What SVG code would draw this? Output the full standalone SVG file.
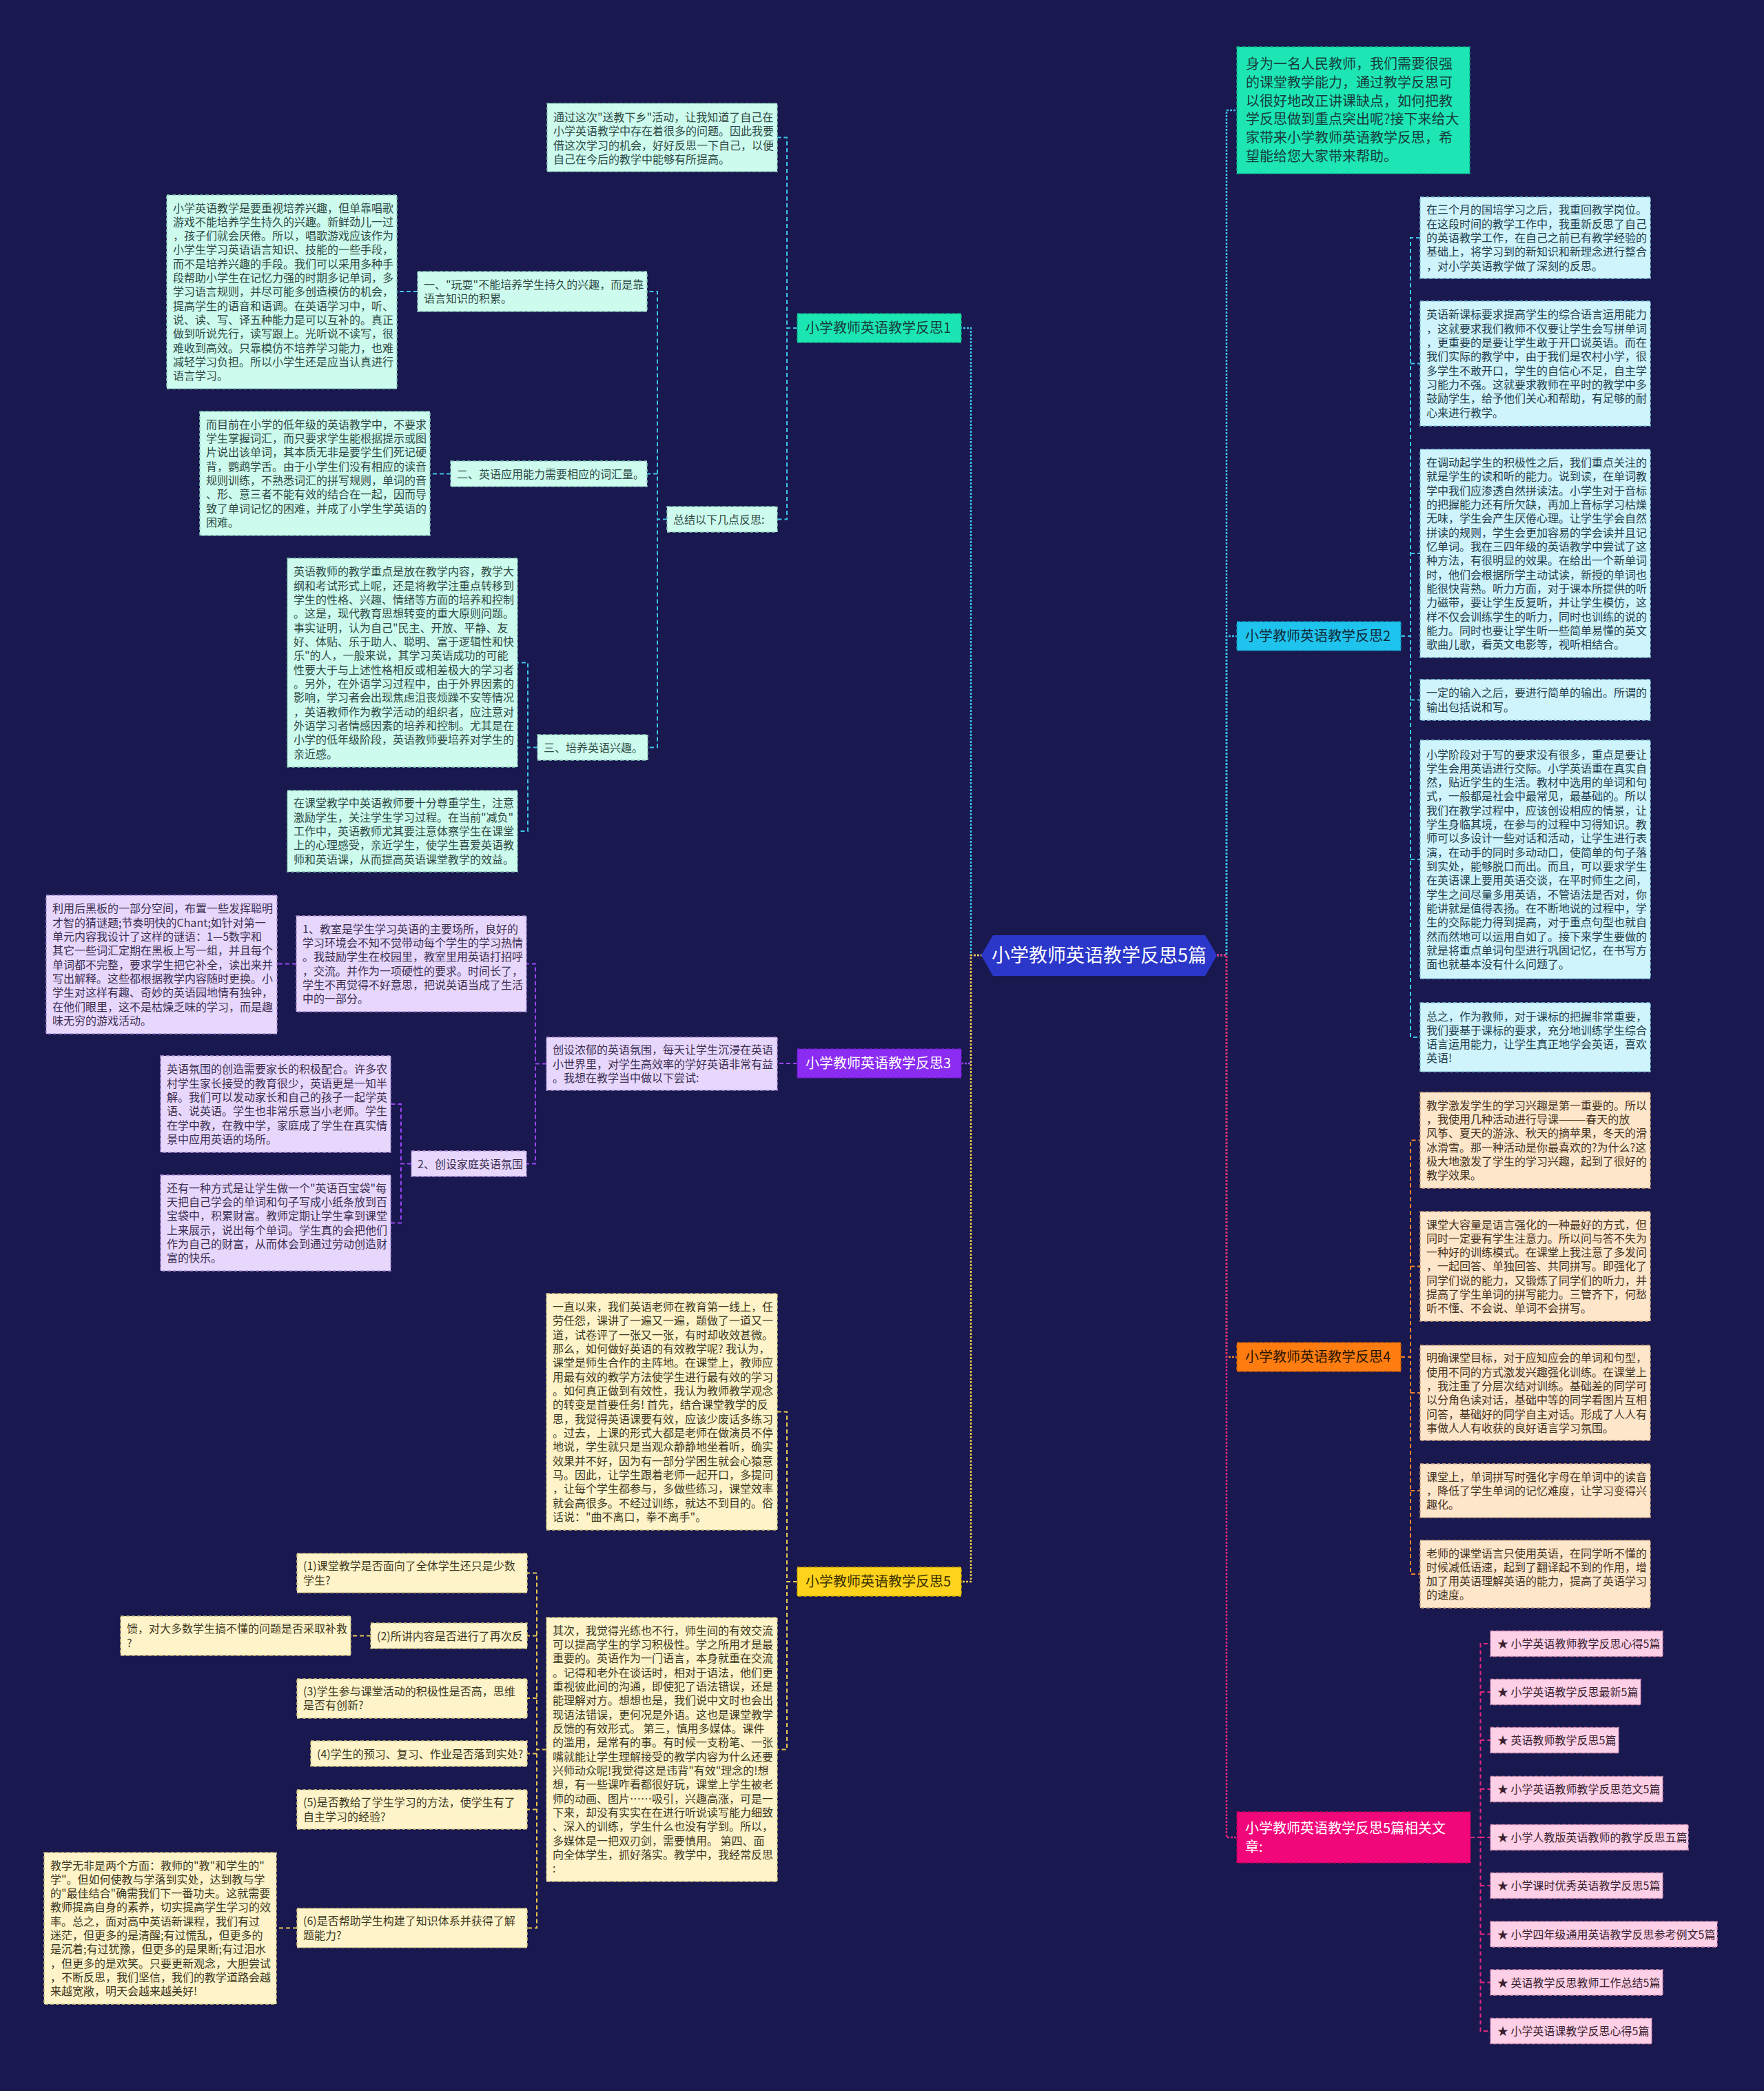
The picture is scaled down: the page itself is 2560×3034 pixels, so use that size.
<svg xmlns="http://www.w3.org/2000/svg" width="2560" height="3034" viewBox="0 0 2560 3034">
<style>
.t{font-family:'Noto Sans CJK SC','Noto Sans',sans-serif;font-size:16px}
.b{font-family:'Noto Sans CJK SC','Noto Sans',sans-serif;font-size:20px}
.box{stroke-width:1.5;stroke-dasharray:5 3}
.m{fill:#cdfbee;stroke:#86c9b8}.tm{fill:#2f4a45}
.c{fill:#cff4fc;stroke:#84c6da}.tc{fill:#24404e}
.p{fill:#e8d7fc;stroke:#a98fd6}.tp{fill:#3b2f52}
.y{fill:#fff4c9;stroke:#cdbd7e}.ty{fill:#3d3823}
.o{fill:#fde6ca;stroke:#cfa47c}.to{fill:#47331f}
.k{fill:#fdd0e7;stroke:#d48ab0}.tk{fill:#3b1f2f}
.ln{fill:none;stroke-width:2;stroke-dasharray:6 4}
.mn{fill:none;stroke-width:2.5;stroke-dasharray:3 2}
.lc{stroke:#3dc3e6}.lp{stroke:#9a45f5}.ly{stroke:#e9c64e}.lo{stroke:#f2822c}.lk{stroke:#e6287f}
</style>
<rect width="2560" height="3034" fill="#19184f"/>
<g id="connectors">
<path class="mn lc" d="M1426,1386 H1409 V476 H1395"/>
<path class="mn lp" d="M1426,1386 H1409 V1543 H1395"/>
<path class="mn ly" d="M1426,1386 H1409 V2295 H1395"/>
<path class="mn lc" d="M1761,1386 H1780 V160 H1795"/>
<path class="mn lc" d="M1761,1386 H1780 V923 H1795"/>
<path class="mn lo" d="M1761,1386 H1780 V1969 H1795"/>
<path class="mn lk" d="M1761,1386 H1780 V2666 H1795"/>
<path class="ln lc" d="M1157,476 H1142 V199.5 H1128 M1157,476 H1142 V753.5 H1128"/>
<path class="ln lc" d="M968,753.5 H954 V423 H939 M954,687.5 H939 M968,753.5 H954 V1084.5 H940"/>
<path class="ln lc" d="M606,423 H576 M654,687.5 H624"/>
<path class="ln lc" d="M780,1084.5 H766 V961.5 H751 M780,1084.5 H766 V1206 H751"/>
<path class="ln lc" d="M2033,923 H2047 V345 H2061 M2047,527.5 H2061 M2047,803 H2061 M2033,923 H2047 V1505 H2061 M2047,1015.5 H2061 M2047,1247 H2061"/>
<path class="ln lp" d="M1157,1543 H1128 M793,1543.5 H777 V1398.5 H764 M793,1543.5 H777 V1688.5 H764 M430,1398.5 H402 M597,1688.5 H582 V1602 H567 M597,1688.5 H582 V1774.5 H567"/>
<path class="ln lo" d="M2033,1969 H2047 V1654.5 H2061 M2047,1837.5 H2061 M2033,1969 H2047 V2284 H2061 M2047,2021 H2061 M2047,2163 H2061"/>
<path class="ln ly" d="M1157,2295 H1142 V2048.5 H1128 M1157,2295 H1142 V2538.5 H1128"/>
<path class="ln ly" d="M793,2538.5 H779 V2282.5 H765 M779,2373.5 H765 M779,2464 H765 M779,2544.5 H765 M793,2538.5 H779 V2797.5 H765 M779,2625.5 H765 M538,2373.5 H509 M431,2797.5 H401"/>
<path class="ln lk" d="M2134,2666 H2148.5 V2385 H2163 M2148.5,2455 H2163 M2148.5,2525 H2163 M2148.5,2596 H2163 M2148.5,2666 H2163 M2134,2666 H2148.5 V2947 H2163 M2148.5,2736 H2163 M2148.5,2806.5 H2163 M2148.5,2876.5 H2163"/>
</g>
<g id="center">
<path d="M1424,1386 L1441,1357 L1749,1357 L1766,1386 L1749,1416 L1441,1416 Z" fill="#2b37c9"/>
<text x="1595" y="1396" text-anchor="middle" font-family="'Noto Sans CJK SC','Noto Sans',sans-serif" font-size="27" fill="#ffffff">小学教师英语教学反思5篇</text>
</g>
<g id="b1"><rect class="box" x="1157" y="455" width="238" height="42" fill="#1be5b2" stroke="#0fa984"/><text class="b" x="1169" y="483" fill="#173c3c">小学教师英语教学反思1</text></g>
<g id="b3"><rect class="box" x="1157" y="1522" width="238" height="42" fill="#8b2cf2" stroke="#6a1cc0"/><text class="b" x="1169" y="1550" fill="#ffffff">小学教师英语教学反思3</text></g>
<g id="b5"><rect class="box" x="1157" y="2274" width="238" height="42" fill="#ffd21c" stroke="#c9a200"/><text class="b" x="1169" y="2302" fill="#3a3000">小学教师英语教学反思5</text></g>
<g id="b2"><rect class="box" x="1795" y="902" width="238" height="42" fill="#1fc4ee" stroke="#1190b5"/><text class="b" x="1807" y="930" fill="#102a3a">小学教师英语教学反思2</text></g>
<g id="b4"><rect class="box" x="1795" y="1948" width="238" height="42" fill="#ff7d10" stroke="#c45c00"/><text class="b" x="1807" y="1976" fill="#2a1500">小学教师英语教学反思4</text></g>
<g id="b6"><rect class="box" x="1795" y="2629" width="339" height="74" fill="#f2077b" stroke="#b8005a"/><text class="b" fill="#ffffff"><tspan x="1807" y="2660">小学教师英语教学反思5篇相关文</tspan><tspan x="1807" dy="27">章:</tspan></text></g>
<g id="intro"><rect class="box" x="1795" y="68" width="338" height="184" fill="#1de6b4" stroke="#10a883"/><text class="b" fill="#173c3c"><tspan x="1808" y="100">身为一名人民教师，我们需要很强</tspan><tspan x="1808" dy="26.8">的课堂教学能力，通过教学反思可</tspan><tspan x="1808" dy="26.8">以很好地改正讲课缺点，如何把教</tspan><tspan x="1808" dy="26.8">学反思做到重点突出呢?接下来给大</tspan><tspan x="1808" dy="26.8">家带来小学教师英语教学反思，希</tspan><tspan x="1808" dy="26.8">望能给您大家带来帮助。</tspan></text></g>
<g id="nA"><rect class="box m" x="794" y="150" width="334" height="99"/><text class="t tm"><tspan x="803" y="176">通过这次"送教下乡"活动，让我知道了自己在</tspan><tspan x="803" dy="20.33">小学英语教学中存在着很多的问题。因此我要</tspan><tspan x="803" dy="20.33">借这次学习的机会，好好反思一下自己，以便</tspan><tspan x="803" dy="20.33">自己在今后的教学中能够有所提高。</tspan></text></g>
<g id="nB"><rect class="box m" x="242" y="283" width="334" height="281"/><text class="t tm"><tspan x="251" y="307.5">小学英语教学是要重视培养兴趣，但单靠唱歌</tspan><tspan x="251" dy="20.33">游戏不能培养学生持久的兴趣。新鲜劲儿一过</tspan><tspan x="251" dy="20.33">，孩子们就会厌倦。所以，唱歌游戏应该作为</tspan><tspan x="251" dy="20.33">小学生学习英语语言知识、技能的一些手段，</tspan><tspan x="251" dy="20.33">而不是培养兴趣的手段。我们可以采用多种手</tspan><tspan x="251" dy="20.33">段帮助小学生在记忆力强的时期多记单词，多</tspan><tspan x="251" dy="20.33">学习语言规则，并尽可能多创造模仿的机会，</tspan><tspan x="251" dy="20.33">提高学生的语音和语调。在英语学习中，听、</tspan><tspan x="251" dy="20.33">说、读、写、译五种能力是可以互补的。真正</tspan><tspan x="251" dy="20.33">做到听说先行，读写跟上。光听说不读写，很</tspan><tspan x="251" dy="20.33">难收到高效。只靠模仿不培养学习能力，也难</tspan><tspan x="251" dy="20.33">减轻学习负担。所以小学生还是应当认真进行</tspan><tspan x="251" dy="20.33">语言学习。</tspan></text></g>
<g id="nC"><rect class="box m" x="606" y="394" width="333" height="58"/><text class="t tm"><tspan x="615" y="418.8">一、"玩耍"不能培养学生持久的兴趣，而是靠</tspan><tspan x="615" dy="20.33">语言知识的积累。</tspan></text></g>
<g id="nD"><rect class="box m" x="968" y="735" width="160" height="37"/><text class="t tm" x="977" y="759.5">总结以下几点反思:</text></g>
<g id="nE"><rect class="box m" x="290" y="597" width="334" height="180"/><text class="t tm"><tspan x="299" y="621.8">而目前在小学的低年级的英语教学中，不要求</tspan><tspan x="299" dy="20.33">学生掌握词汇，而只要求学生能根据提示或图</tspan><tspan x="299" dy="20.33">片说出该单词，其本质无非是要学生们死记硬</tspan><tspan x="299" dy="20.33">背，鹦鹉学舌。由于小学生们没有相应的读音</tspan><tspan x="299" dy="20.33">规则训练，不熟悉词汇的拼写规则，单词的音</tspan><tspan x="299" dy="20.33">、形、意三者不能有效的结合在一起，因而导</tspan><tspan x="299" dy="20.33">致了单词记忆的困难，并成了小学生学英语的</tspan><tspan x="299" dy="20.33">困难。</tspan></text></g>
<g id="nF"><rect class="box m" x="654" y="669" width="285" height="37"/><text class="t tm" x="663" y="693.5">二、英语应用能力需要相应的词汇量。</text></g>
<g id="nG"><rect class="box m" x="417" y="810" width="334" height="303"/><text class="t tm"><tspan x="426" y="835.4">英语教师的教学重点是放在教学内容，教学大</tspan><tspan x="426" dy="20.33">纲和考试形式上呢，还是将教学注重点转移到</tspan><tspan x="426" dy="20.33">学生的性格、兴趣、情绪等方面的培养和控制</tspan><tspan x="426" dy="20.33">。这是，现代教育思想转变的重大原则问题。</tspan><tspan x="426" dy="20.33">事实证明，认为自己"民主、开放、平静、友</tspan><tspan x="426" dy="20.33">好、体贴、乐于助人、聪明、富于逻辑性和快</tspan><tspan x="426" dy="20.33">乐"的人，一般来说，其学习英语成功的可能</tspan><tspan x="426" dy="20.33">性要大于与上述性格相反或相差极大的学习者</tspan><tspan x="426" dy="20.33">。另外，在外语学习过程中，由于外界因素的</tspan><tspan x="426" dy="20.33">影响，学习者会出现焦虑沮丧烦躁不安等情况</tspan><tspan x="426" dy="20.33">，英语教师作为教学活动的组织者，应注意对</tspan><tspan x="426" dy="20.33">外语学习者情感因素的培养和控制。尤其是在</tspan><tspan x="426" dy="20.33">小学的低年级阶段，英语教师要培养对学生的</tspan><tspan x="426" dy="20.33">亲近感。</tspan></text></g>
<g id="nH"><rect class="box m" x="417" y="1147" width="334" height="118"/><text class="t tm"><tspan x="426" y="1171.3">在课堂教学中英语教师要十分尊重学生，注意</tspan><tspan x="426" dy="20.33">激励学生，关注学生学习过程。在当前"减负"</tspan><tspan x="426" dy="20.33">工作中，英语教师尤其要注意体察学生在课堂</tspan><tspan x="426" dy="20.33">上的心理感受，亲近学生，使学生喜爱英语教</tspan><tspan x="426" dy="20.33">师和英语课，从而提高英语课堂教学的效益。</tspan></text></g>
<g id="nI"><rect class="box m" x="780" y="1066" width="160" height="37"/><text class="t tm" x="789" y="1090.5">三、培养英语兴趣。</text></g>
<g id="nJ"><rect class="box c" x="2061" y="286" width="334" height="118"/><text class="t tc"><tspan x="2070" y="310.3">在三个月的国培学习之后，我重回教学岗位。</tspan><tspan x="2070" dy="20.33">在这段时间的教学工作中，我重新反思了自己</tspan><tspan x="2070" dy="20.33">的英语教学工作，在自己之前已有教学经验的</tspan><tspan x="2070" dy="20.33">基础上，将学习到的新知识和新理念进行整合</tspan><tspan x="2070" dy="20.33">，对小学英语教学做了深刻的反思。</tspan></text></g>
<g id="nK"><rect class="box c" x="2061" y="437" width="334" height="181"/><text class="t tc"><tspan x="2070" y="462.3">英语新课标要求提高学生的综合语言运用能力</tspan><tspan x="2070" dy="20.33">，这就要求我们教师不仅要让学生会写拼单词</tspan><tspan x="2070" dy="20.33">，更重要的是要让学生敢于开口说英语。而在</tspan><tspan x="2070" dy="20.33">我们实际的教学中，由于我们是农村小学，很</tspan><tspan x="2070" dy="20.33">多学生不敢开口，学生的自信心不足，自主学</tspan><tspan x="2070" dy="20.33">习能力不强。这就要求教师在平时的教学中多</tspan><tspan x="2070" dy="20.33">鼓励学生，给予他们关心和帮助，有足够的耐</tspan><tspan x="2070" dy="20.33">心来进行教学。</tspan></text></g>
<g id="nL"><rect class="box c" x="2061" y="652" width="334" height="302"/><text class="t tc"><tspan x="2070" y="676.9">在调动起学生的积极性之后，我们重点关注的</tspan><tspan x="2070" dy="20.33">就是学生的读和听的能力。说到读，在单词教</tspan><tspan x="2070" dy="20.33">学中我们应渗透自然拼读法。小学生对于音标</tspan><tspan x="2070" dy="20.33">的把握能力还有所欠缺，再加上音标学习枯燥</tspan><tspan x="2070" dy="20.33">无味，学生会产生厌倦心理。让学生学会自然</tspan><tspan x="2070" dy="20.33">拼读的规则，学生会更加容易的学会读并且记</tspan><tspan x="2070" dy="20.33">忆单词。我在三四年级的英语教学中尝试了这</tspan><tspan x="2070" dy="20.33">种方法，有很明显的效果。在给出一个新单词</tspan><tspan x="2070" dy="20.33">时，他们会根据所学主动试读，新授的单词也</tspan><tspan x="2070" dy="20.33">能很快背熟。听力方面，对于课本所提供的听</tspan><tspan x="2070" dy="20.33">力磁带，要让学生反复听，并让学生模仿，这</tspan><tspan x="2070" dy="20.33">样不仅会训练学生的听力，同时也训练的说的</tspan><tspan x="2070" dy="20.33">能力。同时也要让学生听一些简单易懂的英文</tspan><tspan x="2070" dy="20.33">歌曲儿歌，看英文电影等，视听相结合。</tspan></text></g>
<g id="nM"><rect class="box c" x="2061" y="986" width="334" height="59"/><text class="t tc"><tspan x="2070" y="1011.3">一定的输入之后，要进行简单的输出。所谓的</tspan><tspan x="2070" dy="20.33">输出包括说和写。</tspan></text></g>
<g id="nN"><rect class="box c" x="2061" y="1074" width="334" height="346"/><text class="t tc"><tspan x="2070" y="1100.5">小学阶段对于写的要求没有很多，重点是要让</tspan><tspan x="2070" dy="20.33">学生会用英语进行交际。小学英语重在真实自</tspan><tspan x="2070" dy="20.33">然，贴近学生的生活。教材中选用的单词和句</tspan><tspan x="2070" dy="20.33">式，一般都是社会中最常见，最基础的。所以</tspan><tspan x="2070" dy="20.33">我们在教学过程中，应该创设相应的情景，让</tspan><tspan x="2070" dy="20.33">学生身临其境，在参与的过程中习得知识。教</tspan><tspan x="2070" dy="20.33">师可以多设计一些对话和活动，让学生进行表</tspan><tspan x="2070" dy="20.33">演，在动手的同时多动动口，使简单的句子落</tspan><tspan x="2070" dy="20.33">到实处，能够脱口而出。而且，可以要求学生</tspan><tspan x="2070" dy="20.33">在英语课上要用英语交谈，在平时师生之间，</tspan><tspan x="2070" dy="20.33">学生之间尽量多用英语，不管语法是否对，你</tspan><tspan x="2070" dy="20.33">能讲就是值得表扬。在不断地说的过程中，学</tspan><tspan x="2070" dy="20.33">生的交际能力得到提高，对于重点句型也就自</tspan><tspan x="2070" dy="20.33">然而然地可以运用自如了。接下来学生要做的</tspan><tspan x="2070" dy="20.33">就是将重点单词句型进行巩固记忆，在书写方</tspan><tspan x="2070" dy="20.33">面也就基本没有什么问题了。</tspan></text></g>
<g id="nO"><rect class="box c" x="2061" y="1455" width="334" height="100"/><text class="t tc"><tspan x="2070" y="1480.5">总之，作为教师，对于课标的把握非常重要，</tspan><tspan x="2070" dy="20.33">我们要基于课标的要求，充分地训练学生综合</tspan><tspan x="2070" dy="20.33">语言运用能力，让学生真正地学会英语，喜欢</tspan><tspan x="2070" dy="20.33">英语!</tspan></text></g>
<g id="nU"><rect class="box p" x="793" y="1505" width="335" height="77"/><text class="t tp"><tspan x="802" y="1529.2">创设浓郁的英语氛围，每天让学生沉浸在英语</tspan><tspan x="802" dy="20.33">小世界里，对学生高效率的学好英语非常有益</tspan><tspan x="802" dy="20.33">。我想在教学当中做以下尝试:</tspan></text></g>
<g id="nV"><rect class="box p" x="430" y="1329" width="334" height="139"/><text class="t tp"><tspan x="439" y="1353.7">1、教室是学生学习英语的主要场所，良好的</tspan><tspan x="439" dy="20.33">学习环境会不知不觉带动每个学生的学习热情</tspan><tspan x="439" dy="20.33">。我鼓励学生在校园里，教室里用英语打招呼</tspan><tspan x="439" dy="20.33">，交流。并作为一项硬性的要求。时间长了，</tspan><tspan x="439" dy="20.33">学生不再觉得不好意思，把说英语当成了生活</tspan><tspan x="439" dy="20.33">中的一部分。</tspan></text></g>
<g id="nW"><rect class="box p" x="67" y="1299" width="335" height="201"/><text class="t tp"><tspan x="76" y="1324.2">利用后黑板的一部分空间，布置一些发挥聪明</tspan><tspan x="76" dy="20.33">才智的猜谜题;节奏明快的Chant;如针对第一</tspan><tspan x="76" dy="20.33">单元内容我设计了这样的谜语：1—5数字和</tspan><tspan x="76" dy="20.33">其它一些词汇定期在黑板上写一组，并且每个</tspan><tspan x="76" dy="20.33">单词都不完整，要求学生把它补全，读出来并</tspan><tspan x="76" dy="20.33">写出解释。这些都根据教学内容随时更换。小</tspan><tspan x="76" dy="20.33">学生对这样有趣、奇妙的英语园地情有独钟，</tspan><tspan x="76" dy="20.33">在他们眼里，这不是枯燥乏味的学习，而是趣</tspan><tspan x="76" dy="20.33">味无穷的游戏活动。</tspan></text></g>
<g id="nX"><rect class="box p" x="597" y="1670" width="167" height="37"/><text class="t tp" x="606" y="1694.5">2、创设家庭英语氛围</text></g>
<g id="nY"><rect class="box p" x="233" y="1532" width="334" height="140"/><text class="t tp"><tspan x="242" y="1557.2">英语氛围的创造需要家长的积极配合。许多农</tspan><tspan x="242" dy="20.33">村学生家长接受的教育很少，英语更是一知半</tspan><tspan x="242" dy="20.33">解。我们可以发动家长和自己的孩子一起学英</tspan><tspan x="242" dy="20.33">语、说英语。学生也非常乐意当小老师。学生</tspan><tspan x="242" dy="20.33">在学中教，在教中学，家庭成了学生在真实情</tspan><tspan x="242" dy="20.33">景中应用英语的场所。</tspan></text></g>
<g id="nZ"><rect class="box p" x="233" y="1705" width="334" height="139"/><text class="t tp"><tspan x="242" y="1729.7">还有一种方式是让学生做一个"英语百宝袋"每</tspan><tspan x="242" dy="20.33">天把自己学会的单词和句子写成小纸条放到百</tspan><tspan x="242" dy="20.33">宝袋中，积累财富。教师定期让学生拿到课堂</tspan><tspan x="242" dy="20.33">上来展示，说出每个单词。学生真的会把他们</tspan><tspan x="242" dy="20.33">作为自己的财富，从而体会到通过劳动创造财</tspan><tspan x="242" dy="20.33">富的快乐。</tspan></text></g>
<g id="nP"><rect class="box o" x="2061" y="1585" width="334" height="139"/><text class="t to"><tspan x="2070" y="1609.7">教学激发学生的学习兴趣是第一重要的。所以</tspan><tspan x="2070" dy="20.33">，我使用几种活动进行导课———春天的放</tspan><tspan x="2070" dy="20.33">风筝、夏天的游泳、秋天的摘苹果，冬天的滑</tspan><tspan x="2070" dy="20.33">冰滑雪。那一种活动是你最喜欢的?为什么?这</tspan><tspan x="2070" dy="20.33">极大地激发了学生的学习兴趣，起到了很好的</tspan><tspan x="2070" dy="20.33">教学效果。</tspan></text></g>
<g id="nQ"><rect class="box o" x="2061" y="1758" width="334" height="159"/><text class="t to"><tspan x="2070" y="1782.5">课堂大容量是语言强化的一种最好的方式，但</tspan><tspan x="2070" dy="20.33">同时一定要有学生注意力。所以问与答不失为</tspan><tspan x="2070" dy="20.33">一种好的训练模式。在课堂上我注意了多发问</tspan><tspan x="2070" dy="20.33">，一起回答、单独回答、共同拼写。即强化了</tspan><tspan x="2070" dy="20.33">同学们说的能力，又锻炼了同学们的听力，并</tspan><tspan x="2070" dy="20.33">提高了学生单词的拼写能力。三管齐下，何愁</tspan><tspan x="2070" dy="20.33">听不懂、不会说、单词不会拼写。</tspan></text></g>
<g id="nR"><rect class="box o" x="2061" y="1952" width="334" height="138"/><text class="t to"><tspan x="2070" y="1976.2">明确课堂目标，对于应知应会的单词和句型，</tspan><tspan x="2070" dy="20.33">使用不同的方式激发兴趣强化训练。在课堂上</tspan><tspan x="2070" dy="20.33">，我注重了分层次结对训练。基础差的同学可</tspan><tspan x="2070" dy="20.33">以分角色读对话，基础中等的同学看图片互相</tspan><tspan x="2070" dy="20.33">问答，基础好的同学自主对话。形成了人人有</tspan><tspan x="2070" dy="20.33">事做人人有收获的良好语言学习氛围。</tspan></text></g>
<g id="nS"><rect class="box o" x="2061" y="2124" width="334" height="78"/><text class="t to"><tspan x="2070" y="2148.7">课堂上，单词拼写时强化字母在单词中的读音</tspan><tspan x="2070" dy="20.33">，降低了学生单词的记忆难度，让学习变得兴</tspan><tspan x="2070" dy="20.33">趣化。</tspan></text></g>
<g id="nT"><rect class="box o" x="2061" y="2235" width="334" height="98"/><text class="t to"><tspan x="2070" y="2259.5">老师的课堂语言只使用英语，在同学听不懂的</tspan><tspan x="2070" dy="20.33">时候减低语速，起到了翻译起不到的作用，增</tspan><tspan x="2070" dy="20.33">加了用英语理解英语的能力，提高了英语学习</tspan><tspan x="2070" dy="20.33">的速度。</tspan></text></g>
<g id="nAA"><rect class="box y" x="793" y="1877" width="335" height="343"/><text class="t ty"><tspan x="802" y="1902">一直以来，我们英语老师在教育第一线上，任</tspan><tspan x="802" dy="20.33">劳任怨，课讲了一遍又一遍，题做了一道又一</tspan><tspan x="802" dy="20.33">道，试卷评了一张又一张，有时却收效甚微。</tspan><tspan x="802" dy="20.33">那么，如何做好英语的有效教学呢? 我认为，</tspan><tspan x="802" dy="20.33">课堂是师生合作的主阵地。在课堂上，教师应</tspan><tspan x="802" dy="20.33">用最有效的教学方法使学生进行最有效的学习</tspan><tspan x="802" dy="20.33">。如何真正做到有效性，我认为教师教学观念</tspan><tspan x="802" dy="20.33">的转变是首要任务! 首先，结合课堂教学的反</tspan><tspan x="802" dy="20.33">思，我觉得英语课要有效，应该少废话多练习</tspan><tspan x="802" dy="20.33">。过去，上课的形式大都是老师在做演员不停</tspan><tspan x="802" dy="20.33">地说，学生就只是当观众静静地坐着听，确实</tspan><tspan x="802" dy="20.33">效果并不好，因为有一部分学困生就会心猿意</tspan><tspan x="802" dy="20.33">马。因此，让学生跟着老师一起开口，多提问</tspan><tspan x="802" dy="20.33">，让每个学生都参与，多做些练习，课堂效率</tspan><tspan x="802" dy="20.33">就会高很多。不经过训练，就达不到目的。俗</tspan><tspan x="802" dy="20.33">话说："曲不离口，拳不离手"。</tspan></text></g>
<g id="nBB"><rect class="box y" x="793" y="2347" width="335" height="383"/><text class="t ty"><tspan x="802" y="2371.7">其次，我觉得光练也不行，师生间的有效交流</tspan><tspan x="802" dy="20.33">可以提高学生的学习积极性。学之所用才是最</tspan><tspan x="802" dy="20.33">重要的。英语作为一门语言，本身就重在交流</tspan><tspan x="802" dy="20.33">。记得和老外在谈话时，相对于语法，他们更</tspan><tspan x="802" dy="20.33">重视彼此间的沟通，即使犯了语法错误，还是</tspan><tspan x="802" dy="20.33">能理解对方。想想也是，我们说中文时也会出</tspan><tspan x="802" dy="20.33">现语法错误，更何况是外语。这也是课堂教学</tspan><tspan x="802" dy="20.33">反馈的有效形式。 第三，慎用多媒体。课件</tspan><tspan x="802" dy="20.33">的滥用，是常有的事。有时候一支粉笔、一张</tspan><tspan x="802" dy="20.33">嘴就能让学生理解接受的教学内容为什么还要</tspan><tspan x="802" dy="20.33">兴师动众呢!我觉得这是违背"有效"理念的!想</tspan><tspan x="802" dy="20.33">想，有一些课咋看都很好玩，课堂上学生被老</tspan><tspan x="802" dy="20.33">师的动画、图片……吸引，兴趣高涨，可是一</tspan><tspan x="802" dy="20.33">下来，却没有实实在在进行听说读写能力细致</tspan><tspan x="802" dy="20.33">、深入的训练，学生什么也没有学到。所以，</tspan><tspan x="802" dy="20.33">多媒体是一把双刃剑，需要慎用。 第四、面</tspan><tspan x="802" dy="20.33">向全体学生，抓好落实。教学中，我经常反思</tspan><tspan x="802" dy="20.33">:</tspan></text></g>
<g id="q1"><rect class="box y" x="431" y="2254" width="334" height="57"/><text class="t ty"><tspan x="440" y="2278.3">(1)课堂教学是否面向了全体学生还只是少数</tspan><tspan x="440" dy="20.33">学生?</tspan></text></g>
<g id="q2"><rect class="box y" x="538" y="2355" width="227" height="37"/><text class="t ty" x="547" y="2379.5">(2)所讲内容是否进行了再次反</text></g>
<g id="q2c"><rect class="box y" x="175" y="2345" width="334" height="57"/><text class="t ty"><tspan x="184" y="2369.3">馈，对大多数学生搞不懂的问题是否采取补救</tspan><tspan x="184" dy="20.33">?</tspan></text></g>
<g id="q3"><rect class="box y" x="431" y="2436" width="334" height="57"/><text class="t ty"><tspan x="440" y="2459.8">(3)学生参与课堂活动的积极性是否高，思维</tspan><tspan x="440" dy="20.33">是否有创新?</tspan></text></g>
<g id="q4"><rect class="box y" x="451" y="2526" width="314" height="37"/><text class="t ty" x="460" y="2550.5">(4)学生的预习、复习、作业是否落到实处?</text></g>
<g id="q5"><rect class="box y" x="431" y="2597" width="334" height="57"/><text class="t ty"><tspan x="440" y="2621.3">(5)是否教给了学生学习的方法，使学生有了</tspan><tspan x="440" dy="20.33">自主学习的经验?</tspan></text></g>
<g id="q6"><rect class="box y" x="431" y="2769" width="334" height="57"/><text class="t ty"><tspan x="440" y="2793.3">(6)是否帮助学生构建了知识体系并获得了解</tspan><tspan x="440" dy="20.33">题能力?</tspan></text></g>
<g id="q6c"><rect class="box y" x="64" y="2688" width="337" height="220"/><text class="t ty"><tspan x="73" y="2712.5">教学无非是两个方面：教师的"教"和学生的"</tspan><tspan x="73" dy="20.33">学"。但如何使教与学落到实处，达到教与学</tspan><tspan x="73" dy="20.33">的"最佳结合"确需我们下一番功夫。这就需要</tspan><tspan x="73" dy="20.33">教师提高自身的素养，切实提高学生学习的效</tspan><tspan x="73" dy="20.33">率。总之，面对高中英语新课程，我们有过</tspan><tspan x="73" dy="20.33">迷茫，但更多的是清醒;有过慌乱，但更多的</tspan><tspan x="73" dy="20.33">是沉着;有过犹豫，但更多的是果断;有过泪水</tspan><tspan x="73" dy="20.33">，但更多的是欢笑。只要更新观念，大胆尝试</tspan><tspan x="73" dy="20.33">，不断反思，我们坚信，我们的教学道路会越</tspan><tspan x="73" dy="20.33">来越宽敞，明天会越来越美好!</tspan></text></g>
<g id="r1"><rect class="box k" x="2163" y="2366.5" width="250" height="37"/><text class="t tk" x="2173" y="2391">★ 小学英语教师教学反思心得5篇</text></g>
<g id="r2"><rect class="box k" x="2163" y="2436.5" width="218" height="37"/><text class="t tk" x="2173" y="2461">★ 小学英语教学反思最新5篇</text></g>
<g id="r3"><rect class="box k" x="2163" y="2506.5" width="186" height="37"/><text class="t tk" x="2173" y="2531">★ 英语教师教学反思5篇</text></g>
<g id="r4"><rect class="box k" x="2163" y="2577.5" width="250" height="37"/><text class="t tk" x="2173" y="2602">★ 小学英语教师教学反思范文5篇</text></g>
<g id="r5"><rect class="box k" x="2163" y="2647.5" width="287" height="37"/><text class="t tk" x="2173" y="2672">★ 小学人教版英语教师的教学反思五篇</text></g>
<g id="r6"><rect class="box k" x="2163" y="2717.5" width="250" height="37"/><text class="t tk" x="2173" y="2742">★ 小学课时优秀英语教学反思5篇</text></g>
<g id="r7"><rect class="box k" x="2163" y="2788" width="329" height="37"/><text class="t tk" x="2173" y="2812.5">★ 小学四年级通用英语教学反思参考例文5篇</text></g>
<g id="r8"><rect class="box k" x="2163" y="2858" width="250" height="37"/><text class="t tk" x="2173" y="2882.5">★ 英语教学反思教师工作总结5篇</text></g>
<g id="r9"><rect class="box k" x="2163" y="2928.5" width="234" height="37"/><text class="t tk" x="2173" y="2953">★ 小学英语课教学反思心得5篇</text></g>
</svg>
